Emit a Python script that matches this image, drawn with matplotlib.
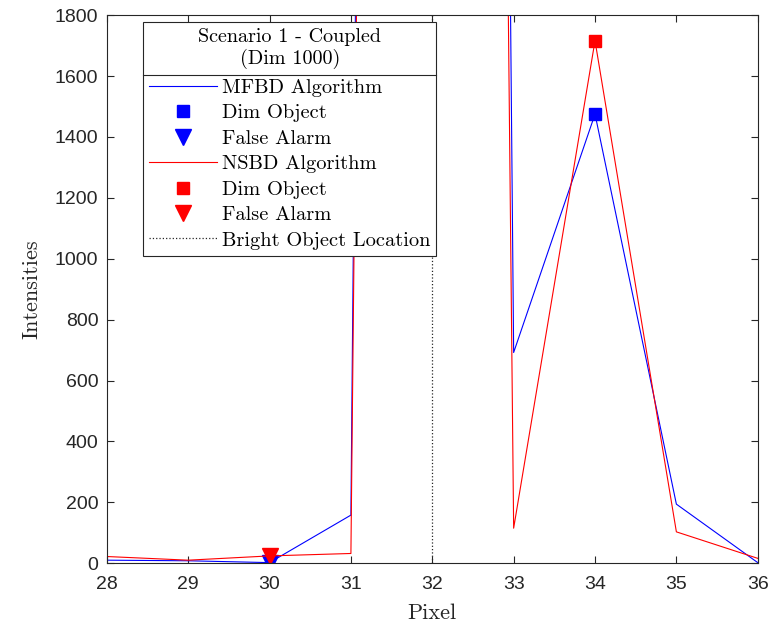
"""Intensity profile around the bright object, MFBD vs NSBD."""

import matplotlib
matplotlib.use("Agg")
import matplotlib.pyplot as plt
from matplotlib.lines import Line2D

pixels = [28, 29, 30, 31, 32, 33, 34, 35, 36]
mfbd = [10, 8, 2, 158, 30000, 692, 1475, 194, 2]
nsbd = [22, 10, 24, 32, 26000, 115, 1716, 103, 16]

dim_pixel = 34
mfbd_dim = 1475
nsbd_dim = 1716
alarm_pixel = 30
mfbd_alarm = 2
nsbd_alarm = 24
bright_pixel = 32

yticks = [0, 200, 400, 600, 800, 1000, 1200, 1400, 1600, 1800]

serif = "cmr10"
axis_grey = "#262626"

fig = plt.figure(figsize=(7.74, 6.3), dpi=100)
ax = fig.add_axes([0.138, 0.106, 0.841, 0.870])

ax.plot(pixels, mfbd, color="blue", lw=0.8, label="MFBD Algorithm")
ax.plot(dim_pixel, mfbd_dim, "s", color="blue", ms=8, label="Dim Object")
ax.plot(alarm_pixel, mfbd_alarm, "v", color="blue", ms=12, label="False Alarm")
ax.plot(pixels, nsbd, color="red", lw=0.8, label="NSBD Algorithm")
ax.plot(dim_pixel, nsbd_dim, "s", color="red", ms=8, label="Dim Object")
ax.plot(alarm_pixel, nsbd_alarm, "v", color="red", ms=12, label="False Alarm")
ax.axvline(bright_pixel, color=axis_grey, ls=":", lw=0.9,
           label="Bright Object Location")

ax.set_xlim(28, 36)
ax.set_ylim(0, 1800)
ax.set_xticks(pixels)
ax.set_yticks(yticks)
ax.tick_params(direction="in", top=True, right=True, length=5, width=0.8,
               labelsize=14, colors=axis_grey)
ax.tick_params(axis="x", pad=9)
ax.tick_params(axis="y", pad=6)
for label in ax.get_xticklabels() + ax.get_yticklabels():
    label.set_fontfamily("Liberation Sans")
for spine in ax.spines.values():
    spine.set_color(axis_grey)
    spine.set_linewidth(0.8)

ax.set_xlabel("Pixel", fontfamily=serif, fontsize=16, color=axis_grey, labelpad=8)
ax.set_ylabel("Intensities", fontfamily=serif, fontsize=16, color=axis_grey,
              labelpad=10)

leg = ax.legend(loc="upper left", bbox_to_anchor=(0.056, 0.988),
                title="Scenario 1 - Coupled\n(Dim 1000)",
                prop={"family": serif, "size": 14.7},
                title_fontproperties={"family": serif, "size": 14.5},
                alignment="center",
                fancybox=False, edgecolor=axis_grey, framealpha=1,
                handlelength=3.3, handletextpad=0.25, labelspacing=0.35,
                borderpad=0.3, borderaxespad=0)
leg.get_frame().set_linewidth(0.8)
leg.get_title().set_multialignment("center")
leg._legend_box.sep = 7

# separator line between legend title and entries, as in the original
fig.canvas.draw()
renderer = fig.canvas.get_renderer()
frame = leg.get_frame().get_window_extent(renderer)
title = leg.get_title().get_window_extent(renderer)
y_sep = title.y0 - 6
inv = fig.transFigure.inverted()
(x0, ys), (x1, _) = inv.transform([(frame.x0, y_sep), (frame.x1, y_sep)])
fig.add_artist(Line2D([x0, x1], [ys, ys], color=axis_grey, lw=0.8, zorder=10))

fig.savefig("out.png", dpi=100)
